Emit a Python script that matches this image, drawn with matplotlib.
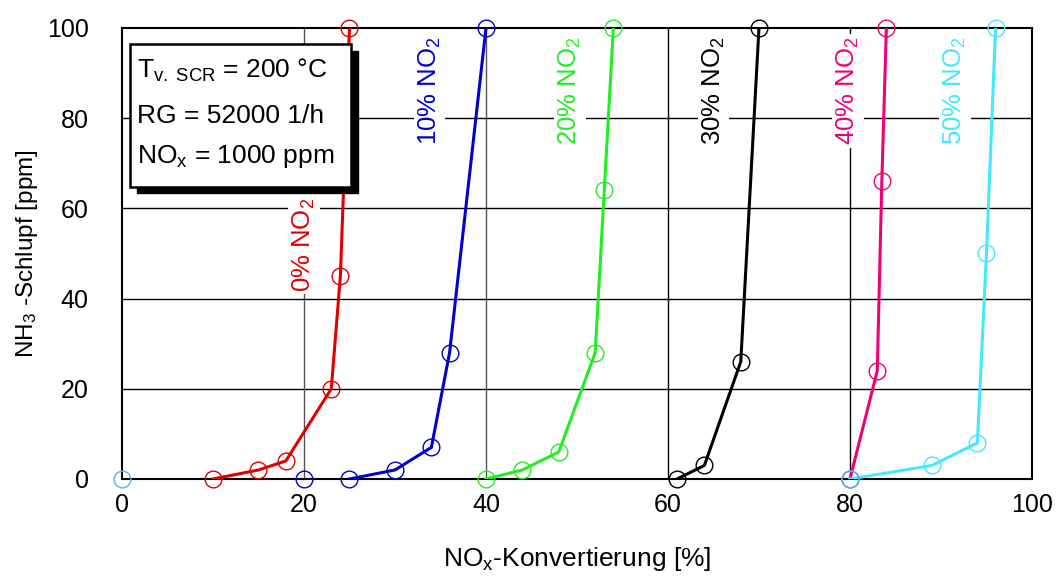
import matplotlib
matplotlib.use('Agg')
import matplotlib.pyplot as plt
import matplotlib.patches as patches

plt.rcParams['font.family'] = ['Liberation Sans', 'DejaVu Sans']
plt.rcParams['mathtext.fontset'] = 'custom'
plt.rcParams['mathtext.rm'] = 'Liberation Sans'
plt.rcParams['mathtext.it'] = 'Liberation Sans'

# NO2 share series: NOx conversion [%] vs NH3 slip [ppm]
labels = ['0%', '10%', '20%', '30%', '40%', '50%']
colors = ['#e00000', '#0000d0', '#22ee22', '#000000', '#ee0077', '#44e8ff']

conv_0 = [10, 15, 18, 23, 24, 25]
slip_0 = [0, 2, 4, 20, 45, 100]
conv_10 = [25, 30, 34, 36, 40]
slip_10 = [0, 2, 7, 28, 100]
conv_20 = [40, 44, 48, 52, 53, 54]
slip_20 = [0, 2, 6, 28, 64, 100]
conv_30 = [61, 64, 68, 70]
slip_30 = [0, 3, 26, 100]
conv_40 = [80, 83, 83.5, 84]
slip_40 = [0, 24, 66, 100]
conv_50 = [80, 89, 94, 95, 96]
slip_50 = [0, 3, 8, 50, 100]

# loose points without a line
extra_x = [0, 20, 80]
extra_y = [0, 0, 0]
extra_c = ['#5ab0d8', '#0000d0', '#5ab0d8']

# label positions (x, y centre) for the rotated series labels
label_x = [20.0, 33.8, 49.2, 65.0, 79.8, 91.5]
label_y = [52, 86, 86, 86, 86, 86]

series = [(conv_0, slip_0), (conv_10, slip_10), (conv_20, slip_20),
          (conv_30, slip_30), (conv_40, slip_40), (conv_50, slip_50)]

fig = plt.figure(figsize=(10.58, 5.78), dpi=100)
ax = fig.add_axes([0.1153, 0.1713, 0.8601, 0.7803])
ax.set_xlim(0, 100)
ax.set_ylim(0, 100)
ax.set_xticks([0, 20, 40, 60, 80, 100])
ax.set_yticks([0, 20, 40, 60, 80, 100])
ax.tick_params(labelsize=18, length=0)
ax.tick_params(axis='y', pad=24)
ax.tick_params(axis='x', pad=10)
for s in ax.spines.values():
    s.set_linewidth(1.5)

# grid
for g in [20, 40, 60, 80]:
    ax.axhline(g, color='black', lw=1.0, zorder=0)
    ax.axvline(g, color='#555555' if g < 60 else 'black', lw=1.0, zorder=0)

for (xs, ys), c in zip(series, colors):
    ax.plot(xs, ys, '-', color=c, lw=2.2, zorder=3)
    ax.plot(xs, ys, 'o', mfc='none', mec=c, ms=12, mew=1.0,
            zorder=4, clip_on=False)

for x, y, c in zip(extra_x, extra_y, extra_c):
    ax.plot(x, y, 'o', mfc='none', mec=c, ms=12, mew=1.0,
            zorder=4, clip_on=False)

for lab, c, x, y in zip(labels, colors, label_x, label_y):
    ax.text(x, y, lab + r' NO$_2$', color=c, fontsize=18.5, rotation=90,
            ha='center', va='center', zorder=2,
            bbox=dict(fc='white', ec='none', pad=2))

# info box with shadow
ax.add_patch(patches.Rectangle((1.6, 63.3), 24.3, 31.7, fc='black', ec='black',
                               zorder=5, clip_on=False))
ax.add_patch(patches.Rectangle((0.9, 64.8), 24.3, 31.7, fc='white', ec='black',
                               lw=1.8, zorder=6, clip_on=False))
ax.text(1.6, 90.7, r'T$_{\mathrm{v.\ SCR}}$ = 200 °C', fontsize=19, va='center',
        zorder=7)
ax.text(1.6, 80.5, 'RG = 52000 1/h', fontsize=19, va='center', zorder=7)
ax.text(1.6, 71.5, r'NO$_{\mathrm{x}}$ = 1000 ppm', fontsize=19, va='center',
        zorder=7)

ax.set_xlabel(r'NO$_{\mathrm{x}}$-Konvertierung [%]', fontsize=19, labelpad=20)
ax.set_ylabel(r'NH$_{3}$ -Schlupf [ppm]', fontsize=17.5, labelpad=5)

fig.savefig('out.png', dpi=100)
